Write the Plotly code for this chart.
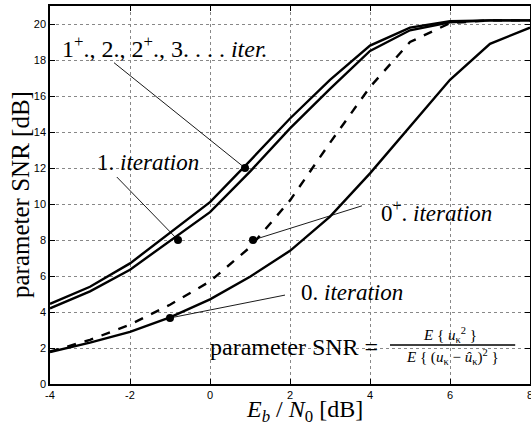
import plotly.graph_objects as go

# ---- data ----
ebn0 = [-4, -3, -2, -1, 0, 1, 2, 3, 4, 5, 6, 7, 8]
snr_iter_later = [4.45, 5.4, 6.7, 8.4, 10.1, 12.4, 14.75, 16.9, 18.8, 19.8, 20.15, 20.2, 20.2]
snr_iter_1 = [4.2, 5.15, 6.35, 7.95, 9.55, 11.8, 14.2, 16.4, 18.5, 19.65, 20.1, 20.2, 20.2]
snr_iter_0plus = [1.8, 2.45, 3.3, 4.4, 5.7, 7.6, 10.2, 13.4, 16.5, 19.0, 20.05, 20.2, 20.2]
snr_iter_0 = [1.78, 2.3, 2.9, 3.7, 4.7, 5.96, 7.4, 9.3, 11.7, 14.3, 16.9, 18.9, 19.8]

# labelled points on the curves
mark_x = [0.875, -0.8, 1.075, -1.0]
mark_y = [12.0, 8.0, 8.0, 3.67]

x_ticks = [-4, -2, 0, 2, 4, 6, 8]
y_ticks = [0, 2, 4, 6, 8, 10, 12, 14, 16, 18, 20]

SERIF = "Liberation Serif"
SANS = "Liberation Sans"
LW = 2.4

fig = go.Figure()
for ys, dash in [(snr_iter_later, "solid"), (snr_iter_1, "solid"),
                 (snr_iter_0plus, "dash"), (snr_iter_0, "solid")]:
    fig.add_trace(go.Scatter(x=ebn0, y=ys, mode="lines",
                             line=dict(color="black", width=LW, dash=dash),
                             showlegend=False, hoverinfo="skip"))

# leader lines (label anchor -> marker)
leaders = [((-2.4, 17.85), (mark_x[0], mark_y[0])),
           ((-2.33, 11.5), (mark_x[1], mark_y[1])),
           ((3.8, 9.9), (mark_x[2], mark_y[2])),
           ((1.875, 4.94), (mark_x[3], mark_y[3]))]
for (x0, y0), (x1, y1) in leaders:
    fig.add_shape(type="line", x0=x0, y0=y0, x1=x1, y1=y1, xref="x", yref="y",
                  line=dict(color="black", width=0.9))

fig.add_trace(go.Scatter(x=mark_x, y=mark_y, mode="markers",
                         marker=dict(color="black", size=8),
                         showlegend=False, hoverinfo="skip"))

labels = [
    (-1.12, 18.75, "1<sup>+</sup>., 2., 2<sup>+</sup>., 3. . . . <i>iter.</i>", 24),
    (-1.56, 12.28, "1. <i>iteration</i>", 23),
    (5.65, 9.6, "0<sup>+</sup>. <i>iteration</i>", 23),
    (3.55, 5.1, "0. <i>iteration</i>", 23),
]
for x, y, t, s in labels:
    fig.add_annotation(x=x, y=y, xref="x", yref="y", text=t, showarrow=False,
                       font=dict(family=SERIF, size=s, color="black"))

# formula
fig.add_annotation(x=4.25, y=2.05, xref="x", yref="y", xanchor="right",
                   text="parameter SNR =", showarrow=False,
                   font=dict(family=SERIF, size=24, color="black"))
fig.add_annotation(x=6.0, y=2.72, xref="x", yref="y",
                   text="<i>E</i> { <i>u</i><sub>κ</sub><sup>2</sup> }", showarrow=False,
                   font=dict(family=SERIF, size=15, color="black"))
fig.add_annotation(x=6.05, y=1.5, xref="x", yref="y",
                   text="<i>E</i> { (<i>u</i><sub>κ</sub> − <i>û</i><sub>κ</sub>)<sup>2</sup> }",
                   showarrow=False,
                   font=dict(family=SERIF, size=15, color="black"))
fig.add_shape(type="line", x0=4.5, x1=7.63, y0=2.17, y1=2.17, xref="x", yref="y",
              line=dict(color="black", width=1.5))

# axis titles
fig.add_annotation(x=2.35, y=-0.0714, xref="x", yref="paper", yanchor="middle",
                   text="<i>E</i><sub><i>b</i></sub> / <i>N</i><sub>0</sub> [dB]",
                   showarrow=False, font=dict(family=SERIF, size=24, color="black"))
fig.add_annotation(x=(20 - 50) / 480, y=0.5, xref="paper", yref="paper",
                   xanchor="center", yanchor="middle",
                   text="parameter SNR [dB]", textangle=-90, showarrow=False,
                   font=dict(family=SERIF, size=25, color="black"))

axis_common = dict(showline=True, linecolor="black", linewidth=1.5, mirror="ticks",
                   ticks="inside", ticklen=5, tickcolor="black", tickwidth=1,
                   showgrid=True, gridcolor="#888", griddash="dot", gridwidth=1,
                   zeroline=False, automargin=False, ticklabeloverflow="allow",
                   tickfont=dict(family=SANS, size=11, color="black"))

fig.update_xaxes(range=[-4, 8], tickvals=x_ticks, ticktext=[str(v) for v in x_ticks],
                 **axis_common)
fig.update_yaxes(range=[0, 21], tickvals=y_ticks, ticktext=[str(v) for v in y_ticks],
                 **axis_common)

fig.update_layout(width=531, height=423, margin=dict(l=50, r=1, t=6, b=39),
                  plot_bgcolor="white", paper_bgcolor="white")

fig.write_html("out.html", config={"displayModeBar": False},
               post_script="document.body.style.margin='0';")
